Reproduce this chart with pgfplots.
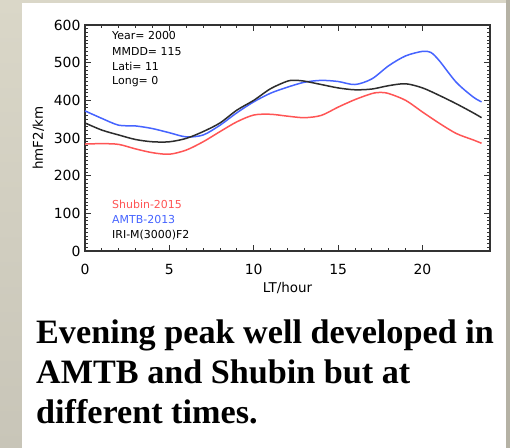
\documentclass[border=0pt]{standalone}
\usepackage{pgfplots}
\pgfplotsset{compat=1.18}
\usepackage{fontspec}
\setmainfont{DejaVu Sans}
\newfontfamily\timesb{Liberation Serif}[BoldFont={* Bold}]
\definecolor{bgl}{RGB}{218,215,200}
\definecolor{bgd}{RGB}{200,197,184}
\definecolor{bgr}{RGB}{181,178,165}
\definecolor{cred}{RGB}{255,85,85}
\definecolor{cblue}{RGB}{70,100,255}
\definecolor{cblack}{RGB}{45,45,45}
\begin{document}
\begin{tikzpicture}
\shade[top color=bgl,bottom color=bgd] (0,0) rectangle (510bp,-448bp);
\fill[bgr] (506bp,0) rectangle (510bp,-448bp);
\fill[white] (22bp,-3bp) rectangle (506bp,-448bp);
\begin{axis}[
  at={(85bp,-251bp)}, anchor=south west,
  width=405bp, height=226bp, scale only axis,
  xmin=0, xmax=24, ymin=0, ymax=600,
  xtick={0,5,10,15,20}, minor x tick num=4,
  ytick={0,100,200,300,400,500,600}, minor y tick num=9,
  tick align=inside, xtick pos=both, ytick pos=both,
  major tick length=6bp, minor tick length=3bp,
  axis line style={line width=1.6bp, draw=black!80},
  every tick/.style={black!80, line width=0.8bp},
  tick label style={font=\fontsize{14}{14}\selectfont, /pgf/number format/assume math mode=true},
  xticklabel style={yshift=-10bp},
  yticklabel style={xshift=-1bp},
  xlabel={LT/hour}, ylabel={hmF2/km},
  label style={font=\fontsize{13.5}{13.5}\selectfont},
  xlabel style={yshift=0bp},
  ylabel style={yshift=3bp},
  clip=false,
]
\addplot[cred, line width=1.5bp, smooth] coordinates {
(0,284) (1,285) (2,283) (3,271) (4,261) (5,257) (6,268) (7,290) (8,317) (9,343)
(10,361) (11,363) (12,358) (13,354) (14,360) (15,382) (16,402) (17,418) (17.5,421)
(18,418) (19,400) (20,369) (21,339) (22,312) (23,295) (23.5,286)};
\addplot[cblue, line width=1.5bp, smooth] coordinates {
(0,372) (1,352) (2,334) (3,332) (4,325) (5,314) (6,303) (7,308) (8,334) (9,367)
(10,396) (11,419) (12,435) (13,448) (14,453) (15,450) (16,442) (17,457) (18,492)
(19,518) (20,530) (20.5,527) (21,505) (22,448) (23,409) (23.5,396)};
\addplot[cblack, line width=1.5bp, smooth] coordinates {
(0,340) (1,321) (2,308) (3,296) (4,290) (5,290) (6,299) (7,317) (8,340) (9,374)
(10,400) (11,431) (12,451) (12.5,453) (13,451) (14,442) (15,433) (16,428) (17,430)
(18,439) (19,444) (20,433) (21,413) (22,391) (23,367) (23.5,354)};
\end{axis}
\begin{scope}[every node/.style={anchor=west, inner sep=0pt, font=\fontsize{11}{11}\selectfont}]
\node at (112bp,-35.7bp) {Year= 2000};
\node at (112bp,-51.3bp) {MMDD= 115};
\node at (112bp,-66bp) {Lati= 11};
\node at (112bp,-81.7bp) {Long= 0};
\node[text=cred] at (112bp,-204bp) {Shubin-2015};
\node[text=cblue] at (112bp,-219.3bp) {AMTB-2013};
\node at (112bp,-235bp) {IRI-M(3000)F2};
\end{scope}
\begin{scope}[every node/.style={anchor=base west, inner sep=0pt, font=\timesb\bfseries\fontsize{34.3}{34.3}\selectfont}]
\node at (36bp,-343bp) {Evening peak well developed in};
\node at (36bp,-383bp) {AMTB and Shubin but at};
\node at (36bp,-423bp) {different times.};
\end{scope}
\end{tikzpicture}
\end{document}
